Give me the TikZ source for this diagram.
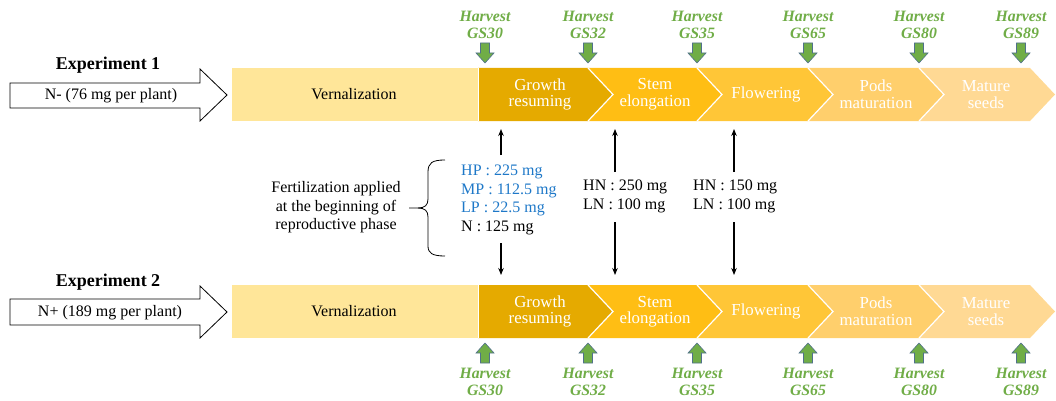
\documentclass[tikz,border=0pt]{standalone}
\usepackage{fontspec}
\setmainfont{Liberation Serif}
\usetikzlibrary{arrows.meta}
\definecolor{vern}{RGB}{255,230,153}
\definecolor{cgr}{RGB}{229,170,0}
\definecolor{cst}{RGB}{255,190,20}
\definecolor{cfl}{RGB}{255,198,55}
\definecolor{cpo}{RGB}{255,207,108}
\definecolor{cma}{RGB}{255,217,148}
\definecolor{hgreen}{RGB}{112,173,71}
\definecolor{hedge}{RGB}{80,112,140}
\definecolor{pblue}{RGB}{30,120,200}
\tikzset{
  txt/.style={inner sep=0pt, font=\fontsize{16}{18.5}\selectfont},
  chev/.style={txt, text=white, align=center, font=\fontsize{16.8}{16.5}\selectfont},
  harv/.style={inner sep=0pt, align=center, text=hgreen, font=\bfseries\itshape\fontsize{15.8}{16.5}\selectfont},
  expt/.style={inner sep=0pt, font=\bfseries\fontsize{18}{20}\selectfont},
  ga/.style={draw=hedge, fill=hgreen, line width=0.6pt},
  inarrow/.style={draw=black, fill=white, line width=0.8pt},
  fert/.style={line width=1.3pt, -{Stealth[length=7pt,width=5.5pt]}},
  gdown/.pic={\path[ga] (-4.5,0) -- (4.5,0) -- (4.5,10) -- (9,10) -- (0,20) -- (-9,10) -- (-4.5,10) -- cycle;},
  gup/.pic={\path[ga] (-4.5,20) -- (4.5,20) -- (4.5,10) -- (9,10) -- (0,0) -- (-9,10) -- (-4.5,10) -- cycle;}
}
\begin{document}
\begin{tikzpicture}[x=1pt,y=-1pt]
\useasboundingbox (0,0) rectangle (1056,401);
% bars
\foreach \t/\nm in {68/a,285/b}{
  \pgfmathsetmacro{\b}{\t+53}
  \pgfmathsetmacro{\m}{\t+26.5}
  \fill[vern] (232,\t) rectangle (478,\b);
  \fill[cgr] (478,\t) -- (588,\t) -- (613,\m) -- (588,\b) -- (478,\b) -- cycle;
  \fill[cst] (588,\t) -- (697,\t) -- (722,\m) -- (697,\b) -- (588,\b) -- (613,\m) -- cycle;
  \fill[cfl] (697,\t) -- (808,\t) -- (833,\m) -- (808,\b) -- (697,\b) -- (722,\m) -- cycle;
  \fill[cpo] (808,\t) -- (919,\t) -- (944,\m) -- (919,\b) -- (808,\b) -- (833,\m) -- cycle;
  \fill[cma] (919,\t) -- (1030,\t) -- (1055,\m) -- (1030,\b) -- (919,\b) -- (944,\m) -- cycle;
  \draw[white, line width=1pt] (478,\t) -- (478,\b);
  \draw[white, line width=1.2pt] (588,\t) -- (613,\m) -- (588,\b);
  \draw[white, line width=1.2pt] (697,\t) -- (722,\m) -- (697,\b);
  \draw[white, line width=1.2pt] (808,\t) -- (833,\m) -- (808,\b);
  \draw[white, line width=1.2pt] (919,\t) -- (944,\m) -- (919,\b);
  \node[txt] (vern\nm) at (354,\m) {Vernalization};
  \node[chev] (grow\nm) at (540,\m) {Growth\\resuming};
  \node[chev] (stem\nm) at (655,\m) {Stem\\elongation};
  \node[chev] (flow\nm) at (766,\m) {Flowering};
  \node[chev] (pods\nm) at (876,\m) {Pods\\maturation};
  \node[chev] (matu\nm) at (986,\m) {Mature\\seeds};
}
% input arrows
\path[inarrow] (10,83) -- (200,83) -- (200,69) -- (227,95) -- (200,121) -- (200,108) -- (10,108) -- cycle;
\node[txt] (n1) at (111,95.5) {N- (76 mg per plant)};
\node[expt] (e1) at (108,65) {Experiment 1};
\path[inarrow] (10,299) -- (200,299) -- (200,286) -- (227,312) -- (200,338) -- (200,325) -- (10,325) -- cycle;
\node[txt] (n2) at (110,312.5) {N+ (189 mg per plant)};
\node[expt] (e2) at (108,282) {Experiment 2};
% harvests
\foreach \x/\g [count=\i] in {485/30,588/32,697/35,808/65,919/80,1021/89}{
  \node[harv] (ht\i) at (\x,25) {Harvest\\GS\g};
  \pic at (\x,43) {gdown};
  \pic at (\x,343) {gup};
  \node[harv] (hb\i) at (\x,382) {Harvest\\GS\g};
}
% middle text
\node[txt, align=center] (fert) at (336,207.5) {Fertilization applied\\at the beginning of\\reproductive phase};
\draw[line width=0.8pt] (445,160) .. controls (432,160) and (428,163) .. (428,172) -- (428,199)
  .. controls (428,205) and (425,208) .. (418,208) -- (409,208);
\draw[line width=0.8pt] (418,208) .. controls (425,208) and (428,211) .. (428,217) -- (428,246)
  .. controls (428,253) and (432,256) .. (445,256);
\node[txt, align=left, anchor=west] (dosep) at (461,200) {\color{pblue}HP : 225 mg\\\color{pblue}MP : 112.5 mg\\\color{pblue}LP : 22.5 mg\\N : 125 mg};
\node[txt, align=left, anchor=west] (dosen1) at (583,196.5) {HN : 250 mg\\LN : 100 mg};
\node[txt, align=left, anchor=west] (dosen2) at (693,196.5) {HN : 150 mg\\LN : 100 mg};
% fertilization arrows
\coordinate (u1s) at (501,155); \coordinate (u1e) at (501,129);
\coordinate (d1s) at (501,243); \coordinate (d1e) at (501,275);
\coordinate (u2s) at (615,172); \coordinate (u2e) at (615,129);
\coordinate (d2s) at (615,222); \coordinate (d2e) at (615,275);
\coordinate (u3s) at (734,172); \coordinate (u3e) at (734,129);
\coordinate (d3s) at (734,222); \coordinate (d3e) at (734,275);
\draw[fert] (u1s) -- (u1e);
\draw[fert] (d1s) -- (d1e);
\draw[fert] (u2s) -- (u2e);
\draw[fert] (d2s) -- (d2e);
\draw[fert] (u3s) -- (u3e);
\draw[fert] (d3s) -- (d3e);
\end{tikzpicture}
\end{document}
